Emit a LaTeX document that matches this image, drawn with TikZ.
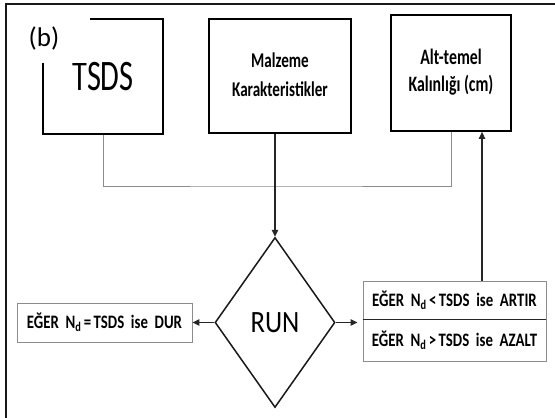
\documentclass[tikz,border=0pt]{standalone}
\usepackage{fontspec}
\setmainfont{Carlito}
\usetikzlibrary{arrows.meta,calc,shapes.geometric}
\newcommand{\hsq}[2]{\scalebox{#1}[1]{#2}}
\begin{document}
\begin{tikzpicture}[x=1pt,y=-1pt,
  bigbox/.style={draw=black, line width=1.8pt, inner sep=0pt, align=center},
  gbox/.style={draw=black!45, line width=0.9pt, inner sep=0pt, align=center},
  conn/.style={draw=black!45, line width=1pt},
  arr/.style={draw=black!85, line width=1.3pt, -{Triangle[length=7pt,width=6.5pt]}},
  ctext/.style={font=\fontsize{19}{22}\selectfont\bfseries}]
\useasboundingbox (0,0) rectangle (555,418);

% top boxes
\node[bigbox, minimum width=120, minimum height=115,
  font=\fontsize{43.5}{50}\selectfont] (tsds) at (103,76.5)
  {\raisebox{-4.5pt}{\hsq{0.70}{TSDS}}};
\node[bigbox, minimum width=142, minimum height=114,
  font=\fontsize{21}{29}\selectfont\bfseries] (malz) at (280,76)
  {\raisebox{-3pt}{\hsq{0.72}{\begin{tabular}{@{}c@{}}Malzeme\\Karakteristikler\end{tabular}}}};
\node[bigbox, minimum width=120, minimum height=116,
  font=\fontsize{22}{27}\selectfont\bfseries] (alt) at (451,73)
  {\raisebox{-4pt}{\hsq{0.72}{\begin{tabular}{@{}c@{}}Alt-temel\\Kalınlığı (cm)\end{tabular}}}};

% label (b) with white background hiding the box corner
\node[fill=white, inner sep=0pt, minimum width=92, minimum height=50,
  font=\fontsize{27}{31}\selectfont] (blab) at (44,38) {(b)};

% outer frame (left and top edges)
\coordinate (fbl) at (6,418);
\coordinate (ftl) at (6,4);
\coordinate (ftr) at (555,4);
\draw[line width=2pt, black!90] (fbl) -- (ftl) -- (ftr);

% decision diamond
\node[diamond, draw=black!90, line width=1.5pt, inner sep=0pt,
  minimum width=120, minimum height=170,
  font=\fontsize{31}{36}\selectfont] (run) at (275,322.5) {\hsq{0.86}{RUN}};

% result boxes
\node[gbox, minimum width=175, minimum height=39, ctext] (lbox) at (104.5,322.5)
  {\hsq{0.78}{EĞER\ \ N\textsubscript{d}\,=\,TSDS\ \ ise\ \ DUR}};
\node[gbox, minimum width=183, minimum height=38, ctext] (rb1) at (454.5,300)
  {\hsq{0.78}{EĞER\ \ N\textsubscript{d}\,<\,TSDS\ \ ise\ \ ARTIR}};
\node[gbox, minimum width=183, minimum height=42, ctext] (rb2) at (454.5,340)
  {\hsq{0.78}{EĞER\ \ N\textsubscript{d}\,>\,TSDS\ \ ise\ \ AZALT}};
\draw[black!85, line width=1pt] (rb1.south west) -- (rb1.south east);

% connectors
\coordinate (junc) at (275,186);
\draw[conn] (tsds.south) |- (junc) -| (alt.south);
\draw[arr, line width=1.1pt] (malz.south -| run.north) -- (run.north);
\draw[arr] (run.west) -- (lbox.east);
\draw[arr, shorten >=5pt] (run.east) -- (run.east -| rb1.west);
\coordinate (upb) at ([xshift=27.5pt]rb1.north);
\draw[arr] (upb) -- (upb |- alt.south);
\end{tikzpicture}
\end{document}
